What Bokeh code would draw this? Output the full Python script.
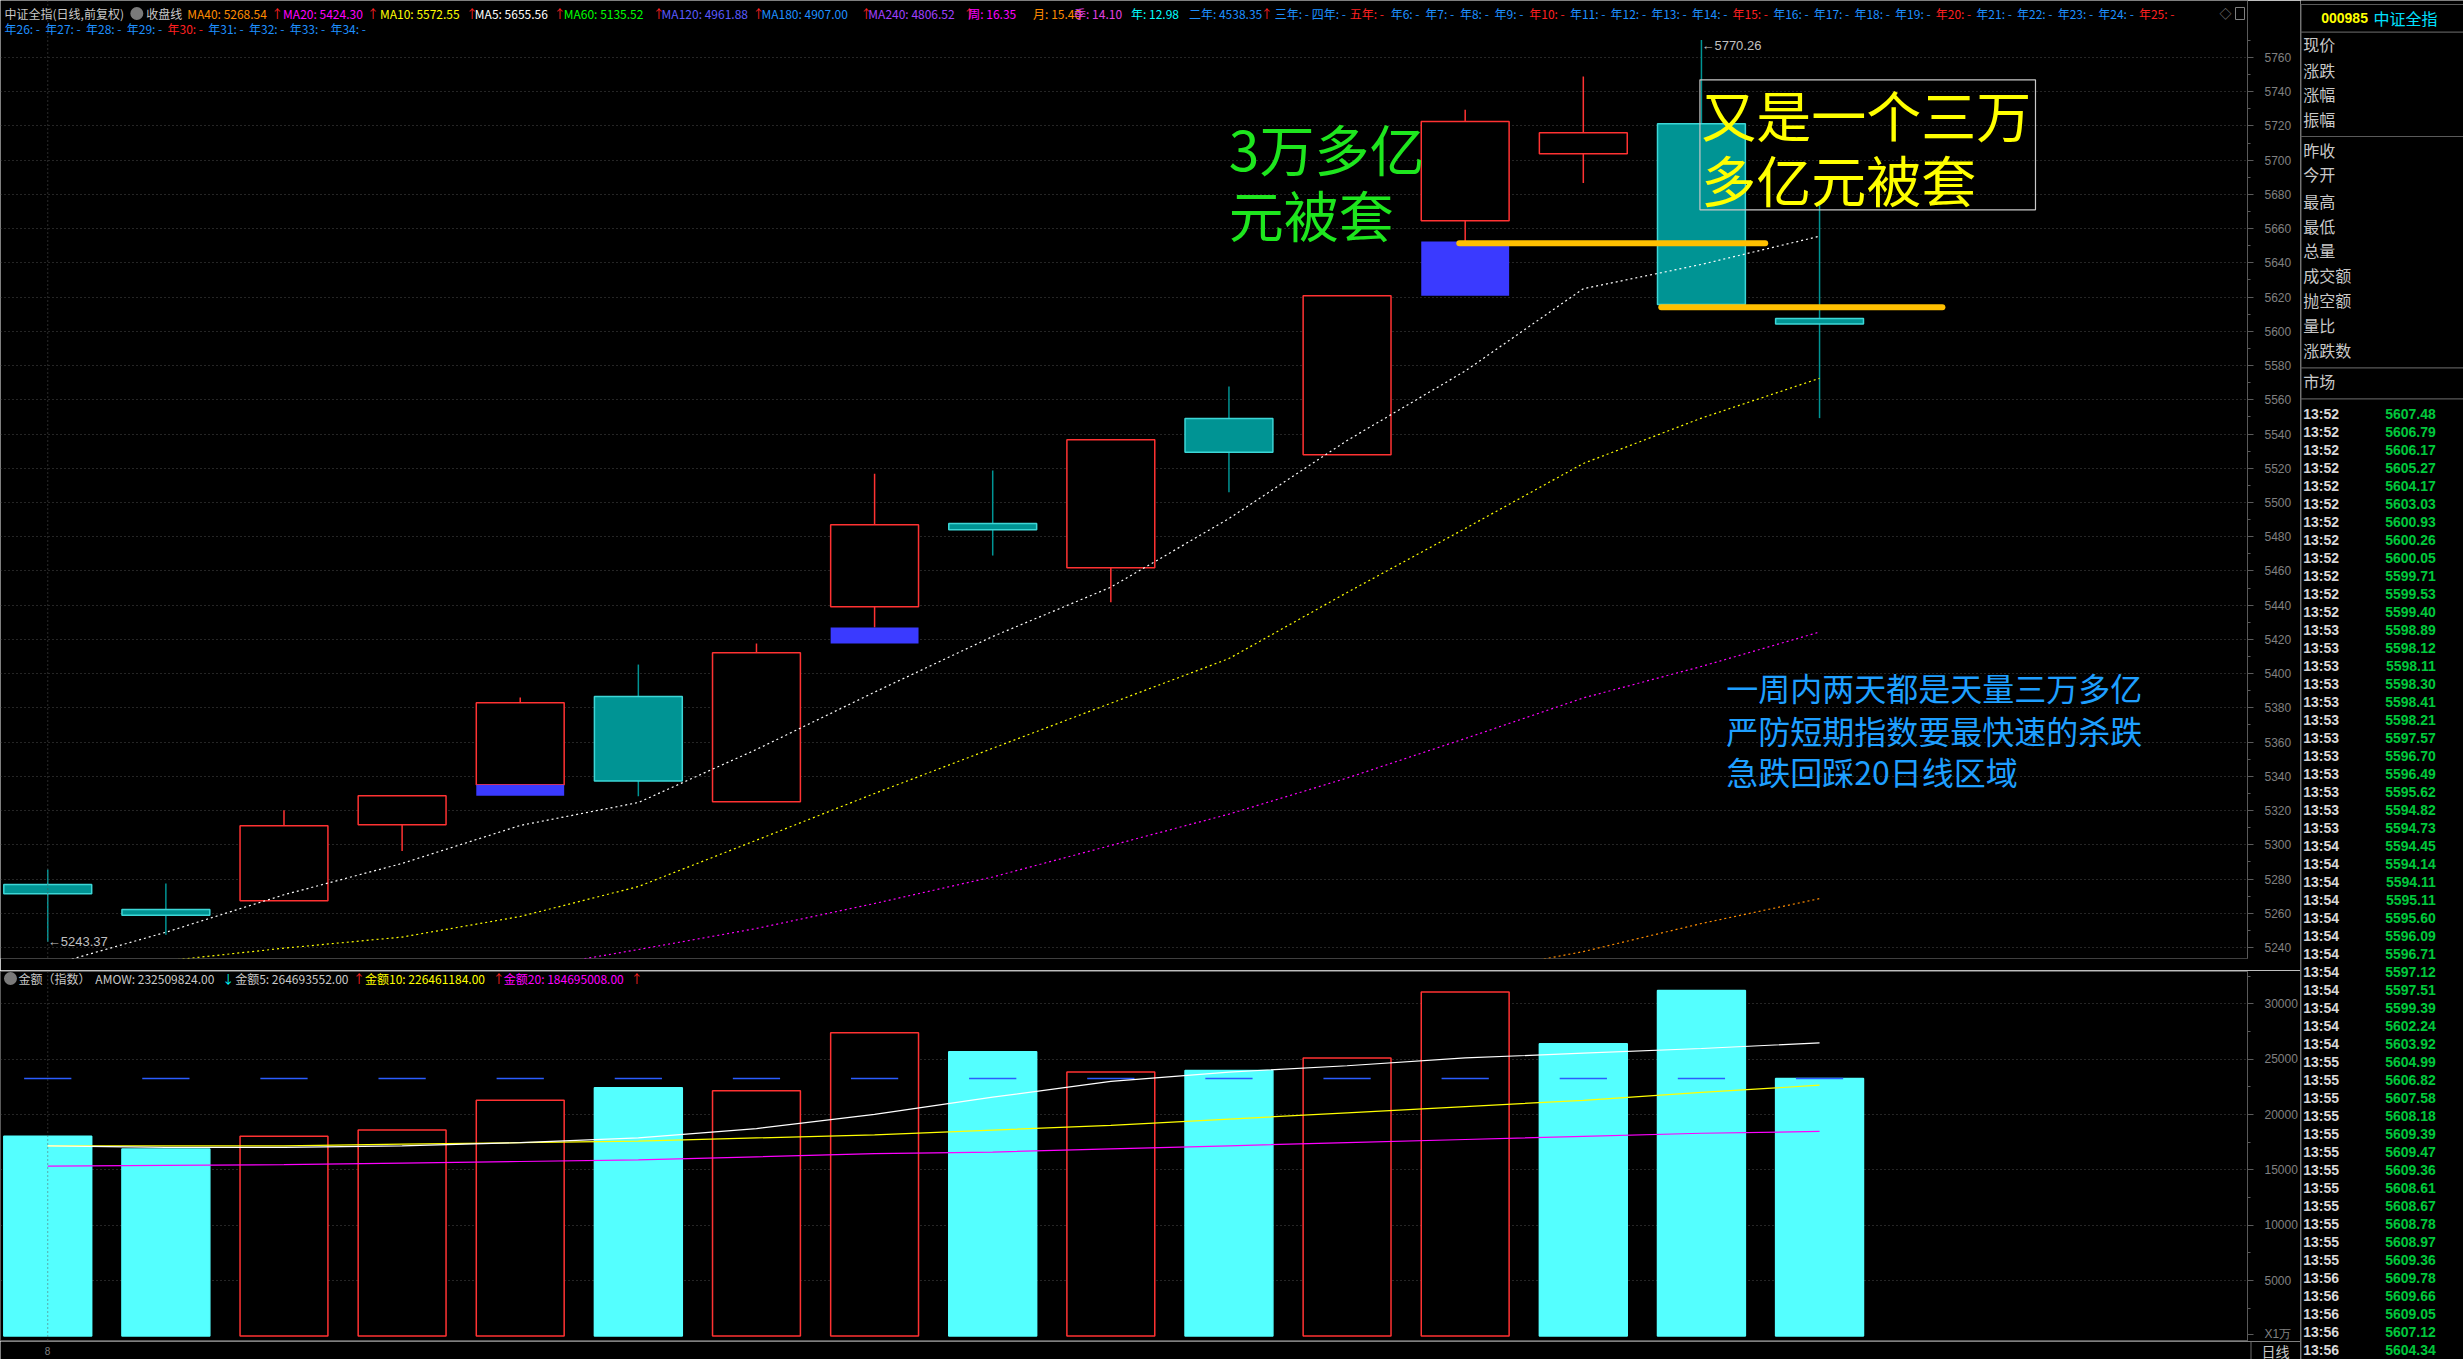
from bokeh.plotting import figure
from bokeh.models import Range1d, FixedTicker, Span
from bokeh.layouts import row, column
from bokeh.embed import file_html
from bokeh.resources import INLINE
from bokeh.core.properties import value

NAN = float("nan")

# ---------------- data ----------------
opens  = [5276.8, 5262.2, 5267.3, 5311.7, 5335.1, 5386.6, 5325.1, 5439.1,
          5487.7, 5461.8, 5549.1, 5527.9, 5664.6, 5703.7, 5721.3, 5607.5]
closes = [5271.4, 5258.9, 5311.1, 5328.6, 5383.0, 5337.2, 5412.2, 5487.0,
          5484.0, 5536.6, 5529.4, 5620.8, 5722.6, 5716.0, 5615.7, 5604.34]
highs  = [5285.6, 5277.4, 5320.2, 5328.6, 5386.1, 5405.3, 5417.6, 5516.8,
          5518.7, 5536.6, 5567.8, 5620.8, 5729.4, 5748.9, 5770.26, 5675.9]
lows   = [5243.37, 5247.4, 5267.3, 5296.3, 5335.1, 5328.4, 5325.1, 5427.0,
          5469.0, 5441.7, 5506.0, 5527.9, 5652.5, 5686.6, 5614.5, 5549.3]

ma5  = [5229.2, 5248.9, 5270.8, 5289.1, 5311.3, 5324.7, 5355.7, 5389.2,
        5421.7, 5450.5, 5490.6, 5536.2, 5576.8, 5624.9, 5639.1, 5655.56]
ma10 = [5229.5, 5232.2, 5239.6, 5246.1, 5258.1, 5275.6, 5302.7, 5330.0,
        5356.4, 5382.7, 5408.8, 5447.4, 5484.8, 5522.8, 5549.3, 5572.55]
ma20 = [NAN, NAN, NAN, NAN, 5227.0, 5238.8, 5251.1, 5265.7,
        5281.2, 5299.6, 5317.9, 5339.0, 5362.1, 5385.8, 5404.2, 5424.30]
ma40 = [NAN] * 12 + [5224.6, 5237.6, 5254.0, 5268.54]

vols     = [18024, 16890, 18024, 18591, 21284, 22418, 22135, 27380,
            25679, 23836, 23978, 25112, 31067, 26387, 31209, 23251]
vol_ma5  = [17173, 17031, 17031, 17173, 17456, 17881, 18731, 20007,
            21567, 22985, 23835, 24403, 25112, 25537, 25962, 26469]
vol_ma10 = [17173, 17173, 17173, 17315, 17456, 17598, 17881, 18165,
            18590, 19016, 19583, 20150, 20717, 21284, 21993, 22646]
vol_ma20 = [15330, 15401, 15472, 15613, 15755, 15897, 16180, 16464,
            16606, 16889, 17173, 17456, 17740, 18024, 18307, 18470]

# the two gold "trapped" levels drawn on the chart (price, from bar, to bar)
trap_levels = [5651.5, 5614.0]
trap_from   = [11.95, 13.66]
trap_to     = [14.54, 16.04]

# header texts
ma_labels  = ["MA40: 5268.54", "MA20: 5424.30", "MA10: 5572.55", "MA5: 5655.56",
              "MA60: 5135.52", "MA120: 4961.88", "MA180: 4907.00", "MA240: 4806.52"]
per_labels = ["周: 16.35", "月: 15.40", "季: 14.10", "年: 12.98", "二年: 4538.35",
              "三年: -", "四年: -", "五年: -"]
amt_labels = ["金额（指数）", "AMOW: 232509824.00", "金额5: 264693552.00",
              "金额10: 226461184.00", "金额20: 184695008.00"]

side_labels = ["现价", "涨跌", "涨幅", "振幅", "昨收", "今开", "最高", "最低",
               "总量", "成交额", "抛空额", "量比", "涨跌数", "市场"]
tick_times = ["13:52"] * 12 + ["13:53"] * 12 + ["13:54"] * 12 + ["13:55"] * 12 + ["13:56"] * 5
tick_prices = [5607.48, 5606.79, 5606.17, 5605.27, 5604.17, 5603.03, 5600.93, 5600.26,
               5600.05, 5599.71, 5599.53, 5599.40, 5598.89, 5598.12, 5598.11, 5598.30,
               5598.41, 5598.21, 5597.57, 5596.70, 5596.49, 5595.62, 5594.82, 5594.73,
               5594.45, 5594.14, 5594.11, 5595.11, 5595.60, 5596.09, 5596.71, 5597.12,
               5597.51, 5599.39, 5602.24, 5603.92, 5604.99, 5606.82, 5607.58, 5608.18,
               5609.39, 5609.47, 5609.36, 5608.61, 5608.67, 5608.78, 5608.97, 5609.36,
               5609.78, 5609.66, 5609.05, 5607.12, 5604.34]

# ---------------- styling / layout ----------------
RED = "#FF3232"
TEAL = "#009494"
TEAL_EDGE = "#3CD6D6"
CYAN_BAR = "#54FFFF"
GAP_BLUE = "#3A3AFF"
GRID = "#4a4a4a"
LINE = "#5a5a5a"
CJK = value("Noto Sans CJK SC")
NUM = value("Liberation Sans")

LEFT_W, SIDE_W = 2300, 163
PRICE_H, VOL_H, STRIP_H = 970, 371, 18

n = len(opens)
idx = list(range(n))
HALF = 0.372

xr = Range1d(-0.400, 18.623)


def base_fig(w, h, yr, **kw):
    f = figure(width=w, height=h, x_range=xr, y_range=yr, output_backend="svg",
               toolbar_location=None, x_axis_location=None, y_axis_location="right",
               background_fill_color="black", border_fill_color="black",
               min_border_left=0, min_border_right=50, **kw)
    f.xgrid.visible = False
    return f


def style_axis(f, ticks, minors, grid_ticks=None, overrides=None):
    tk = FixedTicker(ticks=ticks, minor_ticks=minors)
    ax = f.yaxis[0]
    ax.ticker = tk
    f.ygrid.ticker = FixedTicker(ticks=grid_ticks) if grid_ticks else tk
    if overrides:
        ax.major_label_overrides = overrides
    ax.major_label_text_color = "#808080"
    ax.major_label_text_font = "Liberation Sans"
    ax.major_label_text_font_size = "12px"
    ax.axis_line_color = LINE
    ax.major_tick_line_color = LINE
    ax.minor_tick_line_color = LINE
    ax.major_tick_in = 0
    ax.major_tick_out = 6
    ax.minor_tick_in = 0
    ax.minor_tick_out = 3
    ax.major_label_standoff = 11
    f.ygrid.grid_line_color = GRID
    f.ygrid.grid_line_dash = "1 3"


# ---------------- price panel ----------------
p = base_fig(LEFT_W, PRICE_H, Range1d(5233.56, 5793.30),
             min_border_top=0, min_border_bottom=12, outline_line_color=None)
p.extra_x_ranges = {"px": Range1d(0, 2250)}
p.extra_y_ranges = {"px": Range1d(958, 0)}
style_axis(p, list(range(5240, 5761, 20)), list(range(5240, 5771, 10)))
p.add_layout(Span(location=0, dimension="height", line_color="#555555", line_dash="1 3"))

up = [c >= o for o, c in zip(opens, closes)]
wick_col = [RED if u else TEAL for u in up]
p.segment(x0=idx, y0=lows, x1=idx, y1=highs, line_color=wick_col, line_width=1.5)
p.quad(left=[i - HALF for i in idx], right=[i + HALF for i in idx],
       bottom=[min(o, c) for o, c in zip(opens, closes)],
       top=[max(o, c) for o, c in zip(opens, closes)],
       fill_color=["black" if u else TEAL for u in up],
       line_color=[RED if u else TEAL_EDGE for u in up], line_width=1.5)

# gaps (today's low above yesterday's high) -> blue blocks
gx, gb, gt = [], [], []
for i in range(1, n):
    if lows[i] > highs[i - 1]:
        gx.append(i); gb.append(highs[i - 1]); gt.append(lows[i])
p.quad(left=[i - HALF for i in gx], right=[i + HALF for i in gx], bottom=gb, top=gt,
       fill_color=GAP_BLUE, line_color=None)

for ser, col in [(ma40, "#FF8C00"), (ma20, "#FF00FF"), (ma10, "#FFFF00"), (ma5, "#FFFFFF")]:
    p.line(idx, ser, line_color=col, line_width=1.2, line_dash="2 3")

p.segment(x0=trap_from, y0=trap_levels, x1=trap_to, y1=trap_levels,
          line_color="#FFC000", line_width=6, line_cap="round")

# extreme labels
imax = highs.index(max(highs)); imin = lows.index(min(lows))
p.text(x=[imax, imin], y=[highs[imax], lows[imin]],
       text=["←%.2f" % highs[imax], "←%.2f" % lows[imin]], y_offset=[6, 0],
       text_color="#C0C0C0", text_font=NUM, text_font_size="13px",
       text_baseline="middle", text_align="left")

# header row 1 / row 2
hx, hy, ht, hc = [], [], [], []
def H(t, x, y, c):
    hx.append(x); hy.append(y); ht.append(t); hc.append(c)

R1, R2 = 13, 28
H("中证全指(日线,前复权)", 4, R1, "#C8C8C8")
H("收盘线", 146, R1, "#C8C8C8")
ma_x = [187, 283, 380, 475, 564, 662, 762, 869]
ma_arrow = [271, 367, 466, 554, 653, 753, 861, 964]
ma_col = ["#FF8C00", "#FF00FF", "#FFFF00", "#FFFFFF", "#00FF00", "#5A5AFF", "#1E90FF", "#A040FF"]
for t, x, ax_, c in zip(ma_labels, ma_x, ma_arrow, ma_col):
    H(t, x, R1, c); H("↑", ax_, R1, "#FF2020")
per_x = [969, 1034, 1075, 1132, 1190, 1276, 1313, 1351]
per_col = ["#FF00FF", "#FF8C00", "#E040E0", "#00FFFF", "#1E90FF", "#1E90FF", "#1E90FF", "#FF2020"]
for t, x, c in zip(per_labels, per_x, per_col):
    H(t, x, R1, c)
H("↑", 1262, R1, "#FF2020")
x = 1392.0
for k in range(6, 26):
    H("年%d: -" % k, x, R1, "#FF2020" if k % 5 == 0 else "#1E90FF")
    x += 34.7 if k < 10 else 40.7
for k in range(26, 35):
    H("年%d: -" % k, 4 + 40.8 * (k - 26), R2, "#FF2020" if k % 5 == 0 else "#1E90FF")
H("◇", 2222, R1, "#808080")
p.text(x=hx, y=hy, text=ht, text_color=hc, text_font=CJK, text_font_size="12px",
       text_baseline="middle", text_align="left", x_range_name="px", y_range_name="px")
p.scatter(x=[136.5], y=[R1], size=13, fill_color="#7a7a7a", line_color=None,
          x_range_name="px", y_range_name="px")
p.quad(left=[2238], right=[2247], top=[R1 - 6], bottom=[R1 + 6], fill_color=None,
       line_color="#808080", x_range_name="px", y_range_name="px")

# annotations
p.text(x=[1230, 1230], y=[146, 212], text=["3万多亿", "元被套"], text_color="#1EE61E",
       text_font=CJK, text_font_size="55px", text_baseline="middle",
       x_range_name="px", y_range_name="px")
p.quad(left=[1701.7], right=[2037.7], top=[79.3], bottom=[209.3], fill_color=None,
       line_color="#C8C8C8", line_width=1.2, x_range_name="px", y_range_name="px")
p.text(x=[1703, 1703], y=[112, 177], text=["又是一个三万", "多亿元被套"], text_color="#FFFF00",
       text_font=CJK, text_font_size="55px", text_baseline="middle",
       x_range_name="px", y_range_name="px")
p.text(x=[1728, 1728, 1728], y=[686, 729, 770],
       text=["一周内两天都是天量三万多亿", "严防短期指数要最快速的杀跌", "急跌回踩20日线区域"],
       text_color="#1E9FFF", text_font=CJK, text_font_size="32px", text_baseline="middle",
       x_range_name="px", y_range_name="px")

# ---------------- volume panel ----------------
v = base_fig(LEFT_W, VOL_H, Range1d(-506, 32918),
             min_border_top=1, min_border_bottom=0, outline_line_color=LINE)
v.extra_x_ranges = {"px": Range1d(0, 2250)}
v.extra_y_ranges = {"px": Range1d(1341, 971)}
vol_ticks = list(range(5000, 30001, 5000))
UNIT_TICK = 130  # position of the "X1万" unit tag at the foot of the volume axis
style_axis(v, [UNIT_TICK] + vol_ticks, list(range(2500, 32501, 2500)),
           grid_ticks=vol_ticks, overrides={UNIT_TICK: "X1万"})
v.add_layout(Span(location=0, dimension="height", line_color="#555555", line_dash="1 3"))

vup = [closes[i] > (closes[i - 1] if i > 0 else opens[0]) for i in idx]
v.vbar(x=idx, width=2 * HALF, top=vols, bottom=0,
       fill_color=["black" if u else CYAN_BAR for u in vup],
       line_color=[RED if u else CYAN_BAR for u in vup], line_width=1.5)
v.segment(x0=[i - 0.2 for i in idx], x1=[i + 0.2 for i in idx],
          y0=[vols[-1]] * n, y1=[vols[-1]] * n, line_color="#2B5CFF", line_width=1.5)
for ser, col in [(vol_ma20, "#FF00FF"), (vol_ma10, "#FFFF00"), (vol_ma5, "#FFFFFF")]:
    v.line(idx, ser, line_color=col, line_width=1.2)

VY = 978
v.text(x=[18, 95, 222, 235, 353, 365, 493, 504, 631], y=[VY] * 9,
       text=[amt_labels[0], amt_labels[1], "↓", amt_labels[2], "↑", amt_labels[3], "↑",
             amt_labels[4], "↑"],
       text_color=["#C8C8C8", "#C8C8C8", "#00FFFF", "#C8C8C8", "#FF2020", "#FFFF00",
                   "#FF2020", "#FF00FF", "#FF2020"],
       text_font=CJK, text_font_size="12px", text_baseline="middle",
       x_range_name="px", y_range_name="px")
v.scatter(x=[10], y=[VY], size=13, fill_color="#7a7a7a", line_color=None,
          x_range_name="px", y_range_name="px")

# ---------------- bottom strip ----------------
b = figure(width=LEFT_W, height=STRIP_H, x_range=Range1d(0, 2300), y_range=Range1d(1359, 1341),
           output_backend="svg", toolbar_location=None, x_axis_location=None,
           y_axis_location=None, background_fill_color="black", border_fill_color="black",
           outline_line_color=None, min_border=0, frame_align=False)
b.grid.visible = False
b.segment(x0=[2250.5], x1=[2250.5], y0=[1341], y1=[1359], line_color=LINE, line_width=1.2)
b.text(x=[47], y=[1350], text=["8"], text_color="#808080", text_font=NUM,
       text_font_size="10px", text_baseline="middle", text_align="center")
b.text(x=[2275], y=[1350], text=["日线"], text_color="#C8C8C8", text_font=CJK,
       text_font_size="14px", text_baseline="middle", text_align="center")

# ---------------- right side panel ----------------
s = figure(width=SIDE_W, height=PRICE_H + VOL_H + STRIP_H, x_range=Range1d(2300, 2463),
           y_range=Range1d(1359, 0), output_backend="svg", toolbar_location=None,
           x_axis_location=None, y_axis_location=None, background_fill_color="black",
           border_fill_color="black", outline_line_color=None, min_border=0)
s.grid.visible = False
s.segment(x0=[2300.5, 2300, 2300, 2300, 2300, 2300], x1=[2300.5, 2463, 2463, 2463, 2463, 2463],
          y0=[4, 4, 31.7, 136, 367.3, 398.3], y1=[1359, 4, 31.7, 136, 367.3, 398.3],
          line_color=LINE, line_width=1.2)
s.text(x=[2320.7], y=[17.3], text=["000985"], text_color="#FFFF00", text_font=NUM,
       text_font_style="bold", text_font_size="14px", text_baseline="middle")
s.text(x=[2373], y=[17.3], text=["中证全指"], text_color="#00E0FF", text_font=CJK,
       text_font_size="16px", text_baseline="middle")
side_y = [43.3, 69, 93.3, 118.3, 149, 173.7, 200, 225, 249.3, 274.3, 299, 324, 349, 380.7]
s.text(x=[2302.7] * len(side_labels), y=side_y, text=side_labels, text_color="#C8C8C8",
       text_font=CJK, text_font_size="16px", text_baseline="middle")
ty = [413.3 + 18 * k for k in range(len(tick_times))]
s.text(x=[2302.7] * len(ty), y=ty, text=tick_times, text_color="#D8D8D8", text_font=NUM,
       text_font_style="bold", text_font_size="14px", text_baseline="middle")
s.text(x=[2435.3] * len(ty), y=ty, text=["%.2f" % v_ for v_ in tick_prices],
       text_color="#00C83C", text_font=NUM, text_font_style="bold", text_font_size="14px",
       text_baseline="middle", text_align="right")

layout = row(column(p, v, b), s)
open("out.html", "w").write(file_html(layout, INLINE, title="中证全指"))
